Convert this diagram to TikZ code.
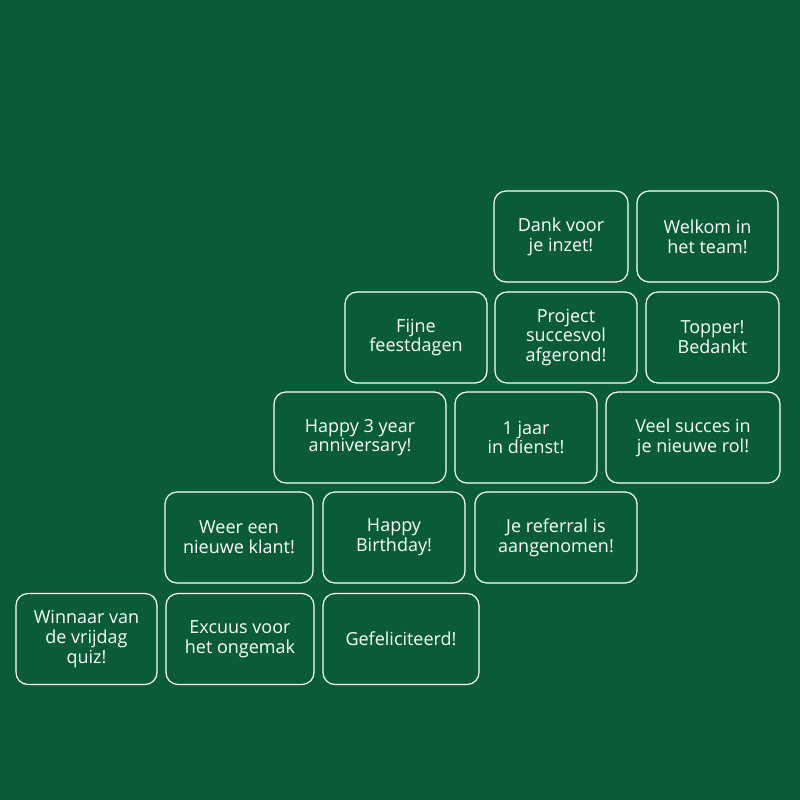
\documentclass[tikz,border=0pt]{standalone}
\usepackage{fontspec}
\setmainfont{Open Sans}
\definecolor{bggreen}{HTML}{0A5C36}

\begin{document}
\begin{tikzpicture}[x=1pt, y=-1pt,
        card/.style={draw=white, line width=1.2pt, rounded corners=12pt,
            text=white, align=center, inner sep=0pt,
            minimum height=91pt, font=\fontsize{18}{19.7}\selectfont}]
        \fill[bggreen] (0, 0) rectangle (800, 800);
        \useasboundingbox (0, 0) rectangle (800, 800);

        \node[card, minimum width=134pt] (a) at (561, 236.5) {Dank voor\\je inzet!};
        \node[card, minimum width=141pt] (b) at (707.5, 236.5) {Welkom in\\het team!};

        \node[card, minimum width=142pt] (c) at (416, 337.5) {Fijne\\feestdagen};
        \node[card, minimum width=142pt] (d) at (566, 337.5) {Project\\succesvol\\afgerond!};
        \node[card, minimum width=133pt] (e) at (712.5, 337.5) {Topper!\\Bedankt};

        \node[card, minimum width=172pt] (f) at (360, 437.5) {Happy 3 year\\anniversary!};
        \node[card, minimum width=142pt] (g) at (526, 437.5) {1 jaar\\in dienst!};
        \node[card, minimum width=174pt] (h) at (693, 437.5) {Veel succes in\\je nieuwe rol!};

        \node[card, minimum width=148pt] (i) at (239, 537.5) {Weer een\\nieuwe klant!};
        \node[card, minimum width=142pt] (j) at (394, 537.5) {Happy\\Birthday!};
        \node[card, minimum width=162pt] (k) at (556, 537.5) {Je referral is\\aangenomen!};

        \node[card, minimum width=141pt] (l) at (86.5, 639) {Winnaar van\\de vrijdag\\quiz!};
        \node[card, minimum width=148pt] (m) at (240, 639) {Excuus voor\\het ongemak};
        \node[card, minimum width=156pt] (n) at (401, 639) {Gefeliciteerd!};
    \end{tikzpicture}
\end{document}
